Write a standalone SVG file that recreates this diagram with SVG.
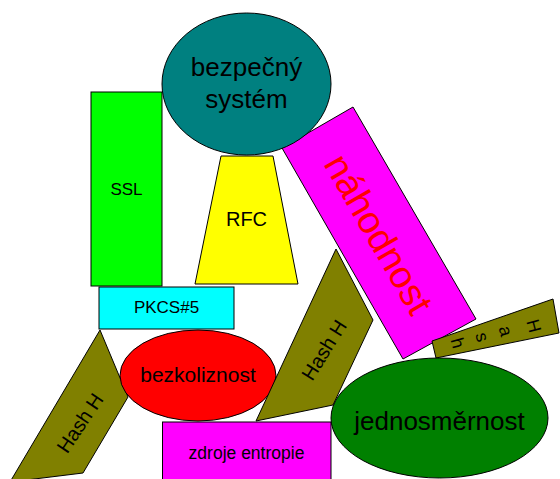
<svg xmlns="http://www.w3.org/2000/svg" width="560" height="479" viewBox="0 0 560 479">
<style>
.s{stroke:#000;stroke-width:1}
text{font-family:"Liberation Sans",Arial,sans-serif;fill:#000;text-anchor:middle}
</style>
<rect width="560" height="479" fill="#fff"/>
<g id="nahodnost">
<polygon class="s" fill="#ff00ff" points="353,107 476,319 403,359 282,148"/>
<text transform="translate(379,234) rotate(60)" font-size="38" dy="0.35em" style="fill:#ff0000">náhodnost</text>
</g>
<g id="bezpecny">
<ellipse class="s" fill="#008080" cx="246.5" cy="84" rx="84.5" ry="71"/>
<text x="246.5" y="76" font-size="26">bezpečný</text>
<text x="246.5" y="108" font-size="26">systém</text>
</g>
<g id="ssl">
<rect class="s" fill="#00ff00" x="91" y="92" width="71" height="194"/>
<text x="126.5" y="195" font-size="17">SSL</text>
</g>
<g id="rfc">
<polygon class="s" fill="#ffff00" points="221,156 273,156 298,284 195,284"/>
<text x="246.5" y="226" font-size="20">RFC</text>
</g>
<g id="pkcs">
<rect class="s" fill="#00ffff" x="99" y="287" width="135" height="42"/>
<text x="166.5" y="313" font-size="17">PKCS#5</text>
</g>
<g id="hash1">
<polygon class="s" fill="#808000" points="100,330 128,397 83,473 10,482"/>
<text transform="translate(80,423) rotate(-56)" font-size="20" dy="0.35em">Hash H</text>
</g>
<g id="bezkoliznost">
<ellipse class="s" fill="#ff0000" cx="198" cy="375.5" rx="78" ry="45.5"/>
<text x="198" y="382" font-size="21">bezkoliznost</text>
</g>
<g id="hash2">
<polygon class="s" fill="#808000" points="336,249 373,320 333,405 256,421"/>
<text transform="translate(324,350) rotate(-58)" font-size="20" dy="0.35em">Hash H</text>
</g>
<g id="zdroje">
<rect class="s" fill="#ff00ff" x="162.5" y="422" width="168.5" height="70"/>
<text x="246.5" y="459" font-size="17.5">zdroje entropie</text>
</g>
<g id="hash3">
<polygon class="s" fill="#808000" points="432,341 553,299 559,333 436,358"/>
<g font-size="18">
<text transform="translate(534,326) rotate(75)" dy="0.35em">H</text>
<text transform="translate(506,331) rotate(75)" dy="0.35em">a</text>
<text transform="translate(482.5,337) rotate(75)" dy="0.35em">s</text>
<text transform="translate(458,343) rotate(75)" dy="0.35em">h</text>
</g>
</g>
<g id="jednosmernost">
<ellipse class="s" fill="#008000" cx="439.5" cy="418" rx="108.5" ry="60"/>
<text x="439.5" y="430" font-size="26">jednosměrnost</text>
</g>
<g id="connectors"></g>
</svg>
